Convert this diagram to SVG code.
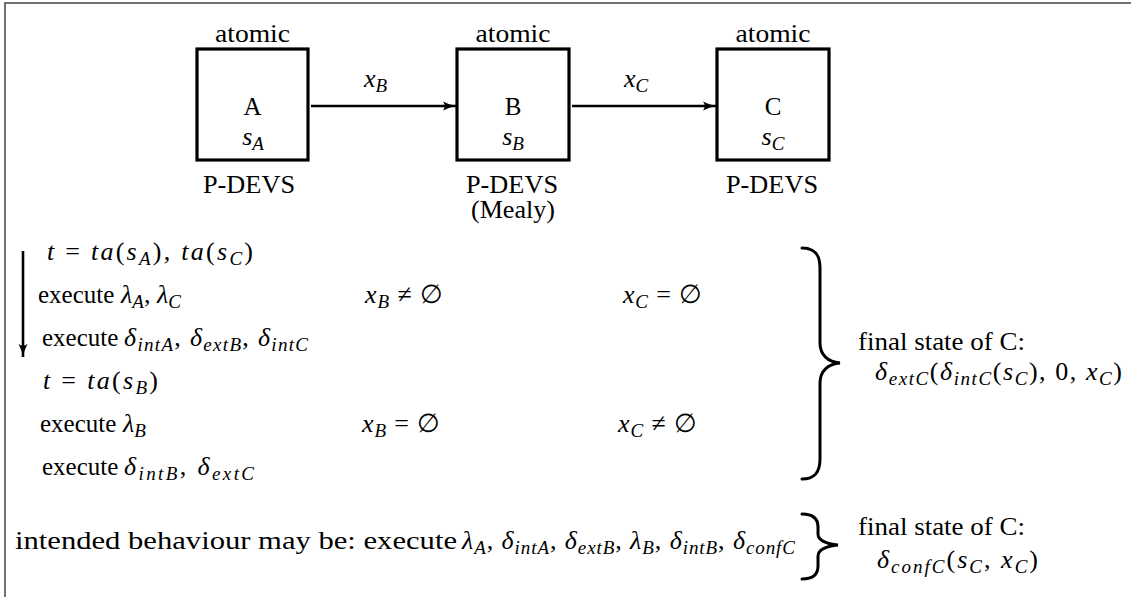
<svg xmlns="http://www.w3.org/2000/svg" width="1131" height="597" viewBox="0 0 1131 597">
  <style>
    .t { font-family: "Liberation Serif", "Times New Roman", serif; font-size: 25px; fill: #000; }
    .mt { font-size: 26px; }
    .c { text-anchor: middle; }
    .m { font-style: italic; }
    .sub { font-size: 19px; font-style: italic; }
    .box { fill: #fff; stroke: #000; stroke-width: 3.2; }
    .wire { fill: none; stroke: #000; stroke-width: 2.6; }
    .brace { fill: none; stroke: #000; stroke-width: 3; stroke-linecap: round; }
    .frame { fill: none; stroke: #444; stroke-width: 1.5; }
  </style>
  <defs>
    <marker id="head" viewBox="0 0 13 10" refX="13" refY="5" markerWidth="13" markerHeight="10" markerUnits="userSpaceOnUse" orient="auto">
      <path d="M0,0.5 Q6.5,4 13,5 Q6.5,6 0,9.5 Q3.5,5 0,0.5 Z" fill="#000"/>
    </marker>
  </defs>

  <!-- outer frame -->
  <path class="frame" d="M5,597 V3 H1131"/>

  <!-- atomic models -->
  <g id="node-a">
    <text class="t c" x="252.5" y="42" textLength="75" lengthAdjust="spacingAndGlyphs">atomic</text>
    <rect class="box" x="197" y="49" width="111" height="111"/>
    <text class="t c" x="252.5" y="115">A</text>
    <text class="t mt c" x="253" y="145"><tspan class="m">s</tspan><tspan class="sub" dy="5">A</tspan></text>
    <text class="t c" x="249" y="193" textLength="92" lengthAdjust="spacingAndGlyphs">P-DEVS</text>
  </g>
  <g id="node-b">
    <text class="t c" x="513" y="42" textLength="75" lengthAdjust="spacingAndGlyphs">atomic</text>
    <rect class="box" x="457" y="49" width="112" height="111"/>
    <text class="t c" x="513" y="115">B</text>
    <text class="t mt c" x="513" y="145"><tspan class="m">s</tspan><tspan class="sub" dy="5">B</tspan></text>
    <text class="t c" x="512" y="193" textLength="92" lengthAdjust="spacingAndGlyphs">P-DEVS</text>
    <text class="t c" x="513" y="218" textLength="84" lengthAdjust="spacingAndGlyphs">(Mealy)</text>
  </g>
  <g id="node-c">
    <text class="t c" x="773" y="42" textLength="75" lengthAdjust="spacingAndGlyphs">atomic</text>
    <rect class="box" x="717" y="49" width="112" height="111"/>
    <text class="t c" x="773" y="115">C</text>
    <text class="t mt c" x="773" y="145"><tspan class="m">s</tspan><tspan class="sub" dy="5">C</tspan></text>
    <text class="t c" x="772" y="193" textLength="92" lengthAdjust="spacingAndGlyphs">P-DEVS</text>
  </g>

  <!-- couplings -->
  <g id="connectors">
    <path class="wire" d="M311,106 H456" marker-end="url(#head)"/>
    <path class="wire" d="M572,106 H716" marker-end="url(#head)"/>
    <text class="t mt" x="364" y="87"><tspan class="m">x</tspan><tspan class="sub" dy="5">B</tspan></text>
    <text class="t mt" x="624" y="87"><tspan class="m">x</tspan><tspan class="sub" dy="5">C</tspan></text>
  </g>

  <!-- time arrow -->
  <path class="wire" d="M23,251 V357" marker-end="url(#head)"/>

  <!-- simulation steps -->
  <g id="steps">
    <text class="t mt" x="47" y="260" textLength="206" lengthAdjust="spacing"><tspan class="m">t</tspan> = <tspan class="m">ta</tspan>(<tspan class="m">s</tspan><tspan class="sub" dy="5">A</tspan><tspan dy="-5">), </tspan><tspan class="m">ta</tspan>(<tspan class="m">s</tspan><tspan class="sub" dy="5">C</tspan><tspan dy="-5">)</tspan></text>

    <text class="t" x="38" y="303">execute</text>
    <text class="t mt" x="121" y="303"><tspan class="m">λ</tspan><tspan class="sub" dy="5">A</tspan><tspan dy="-5">, </tspan><tspan class="m">λ</tspan><tspan class="sub" dy="5">C</tspan></text>

    <text class="t" x="42" y="346">execute</text>
    <text class="t mt" x="124" y="346" textLength="184" lengthAdjust="spacing"><tspan class="m">δ</tspan><tspan class="sub" dy="5">intA</tspan><tspan dy="-5">, </tspan><tspan class="m">δ</tspan><tspan class="sub" dy="5">extB</tspan><tspan dy="-5">, </tspan><tspan class="m">δ</tspan><tspan class="sub" dy="5">intC</tspan></text>

    <text class="t mt" x="43" y="389" textLength="115" lengthAdjust="spacing"><tspan class="m">t</tspan> = <tspan class="m">ta</tspan>(<tspan class="m">s</tspan><tspan class="sub" dy="5">B</tspan><tspan dy="-5">)</tspan></text>

    <text class="t" x="40" y="432">execute</text>
    <text class="t mt" x="123" y="432"><tspan class="m">λ</tspan><tspan class="sub" dy="5">B</tspan></text>

    <text class="t" x="42" y="475">execute</text>
    <text class="t mt" x="124" y="475" textLength="130" lengthAdjust="spacing"><tspan class="m">δ</tspan><tspan class="sub" dy="5">intB</tspan><tspan dy="-5">, </tspan><tspan class="m">δ</tspan><tspan class="sub" dy="5">extC</tspan></text>

    <text class="t mt" x="365" y="303" textLength="78" lengthAdjust="spacing"><tspan class="m">x</tspan><tspan class="sub" dy="5">B</tspan><tspan dy="-5"> ≠ ∅</tspan></text>
    <text class="t mt" x="623" y="303" textLength="79" lengthAdjust="spacing"><tspan class="m">x</tspan><tspan class="sub" dy="5">C</tspan><tspan dy="-5"> = ∅</tspan></text>
    <text class="t mt" x="362" y="432" textLength="78" lengthAdjust="spacing"><tspan class="m">x</tspan><tspan class="sub" dy="5">B</tspan><tspan dy="-5"> = ∅</tspan></text>
    <text class="t mt" x="618" y="432" textLength="79" lengthAdjust="spacing"><tspan class="m">x</tspan><tspan class="sub" dy="5">C</tspan><tspan dy="-5"> ≠ ∅</tspan></text>
  </g>

  <!-- result of the run -->
  <g id="result">
    <path class="brace" d="M802,248 C815,248 820,255 820,268 L820,343 C820,355 828,362 840,363 C828,364 820,371 820,383 L820,459 C820,472 815,479 802,479"/>
    <text class="t" x="858" y="350" textLength="167" lengthAdjust="spacingAndGlyphs">final state of C:</text>
    <text class="t mt" x="875" y="380" textLength="247" lengthAdjust="spacing"><tspan class="m">δ</tspan><tspan class="sub" dy="5">extC</tspan><tspan dy="-5">(</tspan><tspan class="m">δ</tspan><tspan class="sub" dy="5">intC</tspan><tspan dy="-5">(</tspan><tspan class="m">s</tspan><tspan class="sub" dy="5">C</tspan><tspan dy="-5">), 0, </tspan><tspan class="m">x</tspan><tspan class="sub" dy="5">C</tspan><tspan dy="-5">)</tspan></text>
  </g>

  <!-- intended behaviour -->
  <g id="intended">
    <text class="t" x="15" y="549" textLength="442" lengthAdjust="spacingAndGlyphs">intended behaviour may be: execute</text>
    <text class="t mt" x="462" y="549" textLength="333" lengthAdjust="spacing"><tspan class="m">λ</tspan><tspan class="sub" dy="5">A</tspan><tspan dy="-5">, </tspan><tspan class="m">δ</tspan><tspan class="sub" dy="5">intA</tspan><tspan dy="-5">, </tspan><tspan class="m">δ</tspan><tspan class="sub" dy="5">extB</tspan><tspan dy="-5">, </tspan><tspan class="m">λ</tspan><tspan class="sub" dy="5">B</tspan><tspan dy="-5">, </tspan><tspan class="m">δ</tspan><tspan class="sub" dy="5">intB</tspan><tspan dy="-5">, </tspan><tspan class="m">δ</tspan><tspan class="sub" dy="5">confC</tspan></text>
    <path class="brace" d="M802,514 C813,514 818,519 818,527 L818,534 C818,540 826,544 838,545 C826,546 818,550 818,556 L818,566 C818,574 813,579 802,579"/>
    <text class="t" x="858" y="535" textLength="167" lengthAdjust="spacingAndGlyphs">final state of C:</text>
    <text class="t mt" x="877" y="568" textLength="161" lengthAdjust="spacing"><tspan class="m">δ</tspan><tspan class="sub" dy="5">confC</tspan><tspan dy="-5">(</tspan><tspan class="m">s</tspan><tspan class="sub" dy="5">C</tspan><tspan dy="-5">, </tspan><tspan class="m">x</tspan><tspan class="sub" dy="5">C</tspan><tspan dy="-5">)</tspan></text>
  </g>
</svg>
